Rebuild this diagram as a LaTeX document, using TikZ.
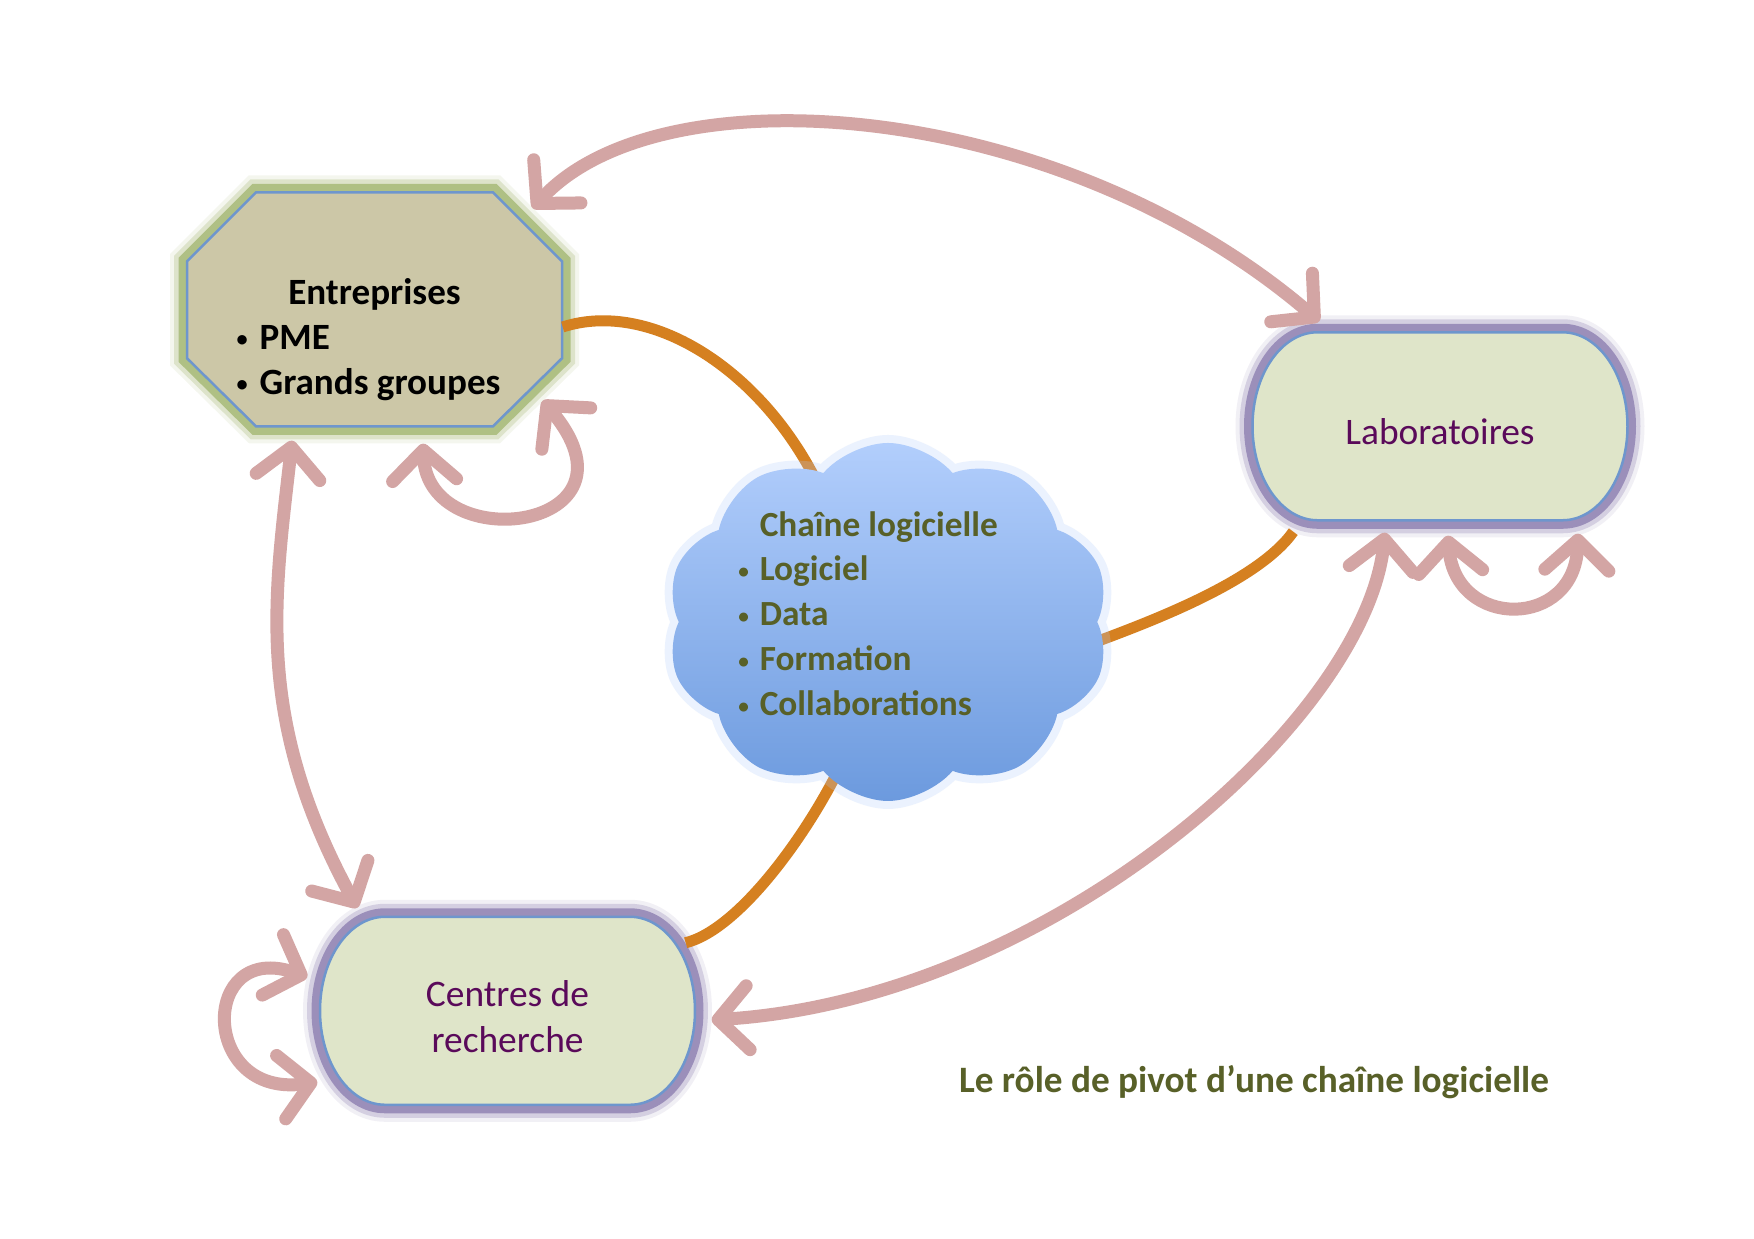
\documentclass[tikz,border=0pt]{standalone}
\usepackage{fontspec}
\setmainfont{Carlito}
\usetikzlibrary{shapes,shapes.symbols,arrows.meta,positioning,backgrounds}
\definecolor{pinkarr}{RGB}{211,165,164}
\definecolor{orangeline}{RGB}{213,128,32}
\definecolor{octofill}{RGB}{204,199,167}
\definecolor{octoglow}{RGB}{168,186,120}
\definecolor{boxfill}{RGB}{223,229,201}
\definecolor{boxglow}{RGB}{146,132,180}
\definecolor{edgeblue}{RGB}{110,150,205}
\definecolor{labtext}{RGB}{90,10,90}
\definecolor{olivetext}{RGB}{88,96,40}
\definecolor{cloudtop}{RGB}{178,206,252}
\definecolor{cloudbot}{RGB}{108,154,222}

\newcommand{\puce}{\raisebox{0.15ex}{\scalebox{0.6}{\textbullet}}}
% outlines drawn behind the named nodes
\newcommand{\capsule}[1]{%
  \begin{scope}[on background layer]
    \path[capsulebox] (#1.north) ++(-1.225,0) -- ++(2.45,0)
      arc[start angle=90,end angle=-90,x radius=0.65,y radius=0.94]
      -- ++(-2.45,0)
      arc[start angle=270,end angle=90,x radius=0.65,y radius=0.94] -- cycle;
  \end{scope}}
\newcommand{\octagon}[1]{%
  \begin{scope}[on background layer]
    \path[octobox] (#1.north) ++(-1.185,0) -- ++(2.37,0) -- ++(0.69,-0.69) -- ++(0,-0.97)
      -- ++(-0.69,-0.68) -- ++(-2.37,0) -- ++(-0.69,0.68) -- ++(0,0.97) -- cycle;
  \end{scope}}

\begin{document}
\begin{tikzpicture}[
  glow/.style={preaction={draw=#1,line width=3.4mm,opacity=0.12},
    preaction={draw=#1,line width=2.6mm,opacity=0.3},
    preaction={draw=#1,line width=1.7mm,opacity=0.85}},
  octo/.style={minimum width=3.75cm,minimum height=2.34cm,inner sep=0pt},
  octobox/.style={fill=octofill,draw=edgeblue,line width=0.25mm,glow=octoglow},
  pill/.style={minimum width=3.75cm,minimum height=1.88cm,inner sep=0pt},
  capsulebox/.style={fill=boxfill,draw=edgeblue,line width=0.25mm,glow=boxglow},
  boxtext/.style={align=center,text=labtext,font=\fontsize{10.65pt}{13pt}\selectfont},
  octotext/.style={font=\bfseries\fontsize{10.55pt}{12.7pt}\selectfont,text=black},
  cloudtext/.style={font=\bfseries\fontsize{10.05pt}{12.8pt}\selectfont,text=olivetext},
  cloudbox/.style={cloud,cloud puffs=10,cloud puff arc=100,cloud ignores aspect,
    minimum width=4.43cm,minimum height=3.58cm,inner sep=0pt,top color=cloudtop,bottom color=cloudbot,
    preaction={draw=cloudtop,line width=1.6mm,opacity=0.25}},
  caption/.style={font=\bfseries\fontsize{10.6pt}{12pt}\selectfont,text=olivetext},
  link/.style={line width=1.1mm,draw=orangeline},
  arr/.style={line width=1.3mm,draw=pinkarr,line cap=round,line join=round,
    >={Straight Barb[length=3mm,width=6.4mm,round]},<->}
]
\begin{scope}[on background layer]
\fill[white] (0,0) rectangle (17.54,12.39);
\end{scope}
\useasboundingbox (0,0) rectangle (17.54,12.39);

\node[octo,label={[octotext,xshift=-0.6mm,yshift=-3.05mm]center:{\begin{tabular}{@{}l@{\hspace{1.2mm}}l@{}}
  \multicolumn{2}{@{\hspace{1.2mm}}c@{}}{Entreprises}\\ \puce & PME\\ \puce & Grands groupes\end{tabular}}}] (entr) at (3.745,9.29) {};
\node[cloudbox,label={[cloudtext,xshift=-2mm,yshift=0.5mm]center:{\begin{tabular}{@{}l@{\hspace{1.1mm}}l@{}}
  & Chaîne logicielle\\ \puce & Logiciel\\ \puce & Data\\ \puce & Formation\\ \puce & Collaborations\end{tabular}}}] (chain) at (8.88,6.17) {};
\node[pill,label={[boxtext,yshift=-0.45mm]center:Laboratoires}] (labo) at (14.40,8.12) {};
\node[pill,label={[boxtext,yshift=-0.5mm]center:{Centres de\\recherche}}] (centres) at (5.075,2.275) {};
\octagon{entr}
\capsule{labo}
\capsule{centres}
\node[caption,anchor=base] (titre) at (12.54,1.46) {Le rôle de pivot d’une chaîne logicielle};

% orange links, under the cloud
\begin{scope}[on background layer]
\draw[link] ([yshift=-1.7mm]entr.east) .. controls +(0.87,0.28) and +(-0.57,1.14) .. ([shift={(-7.1mm,-4mm)}]chain.north);
\draw[link] ([shift={(-0.5mm,-2.1mm)}]chain.east) .. controls +(0.65,0.24) and +(-0.34,-0.48) .. ([shift={(4.15mm,-1mm)}]labo.south west);
\draw[link] ([shift={(-4.7mm,3.7mm)}]chain.south) .. controls +(-0.31,-0.65) and +(0.55,0.14) .. ([shift={(-1mm,-2.6mm)}]centres.north east);
\end{scope}

% pink arrows
\draw[arr] ([shift={(-3mm,-1.6mm)}]entr.north east) .. controls +(1.28,1.40) and +(-2.6,2.23) .. ([shift={(6.75mm,1.1mm)}]labo.north west);
\draw[arr] ([yshift=-1.3mm]entr.235) .. controls +(-0.18,-1.59) and +(-1.03,1.89) .. ([shift={(3.8mm,0.9mm)}]centres.north west);
\draw[arr] ([shift={(4.85mm,-1.6mm)}]entr.south) .. controls +(0.05,-1.15) and +(1.1,-1.3) .. ([shift={(-2mm,2.7mm)}]entr.south east);
\draw[arr] ([shift={(0.8mm,-1.4mm)}]labo.south) .. controls +(0.07,-0.94) and +(-0.03,-0.96) .. ([shift={(13.8mm,-1.2mm)}]labo.south);
\draw[arr] ([shift={(-5.5mm,-1.1mm)}]labo.south) .. controls +(-0.2,-1.87) and +(3.39,0.21) .. ([shift={(1.6mm,-0.85mm)}]centres.east);
\draw[arr] ([shift={(-1.2mm,3.45mm)}]centres.west) .. controls +(-1.08,0.38) and +(-1.18,-0.17) .. ([shift={(-0.2mm,-7.05mm)}]centres.west);
\end{tikzpicture}
\end{document}
